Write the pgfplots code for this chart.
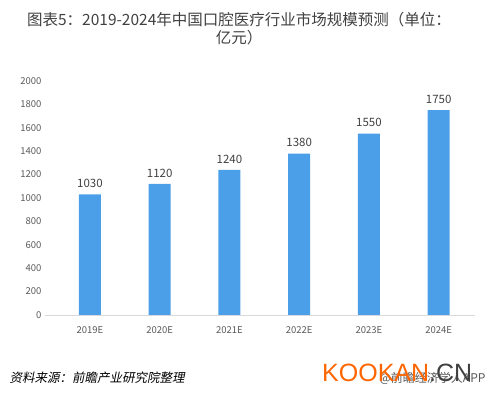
\documentclass[border=0pt]{standalone}
\usepackage{pgfplots}
\pgfplotsset{compat=1.18}
\usepackage{fontspec}
\setmainfont{Noto Sans CJK SC}
\newfontfamily\srcfont[FakeSlant=0.2]{Noto Sans CJK SC}
\newfontfamily\latfont{Liberation Sans}
\definecolor{barblue}{HTML}{4A9FE8}
\definecolor{titlegray}{HTML}{404040}
\definecolor{tickgray}{HTML}{595959}
\definecolor{axisgray}{HTML}{D9D9D9}
\definecolor{kooorange}{HTML}{FF6600}
\begin{document}
\begin{tikzpicture}[x=1pt,y=1pt]
\path[use as bounding box] (0,0) rectangle (488,395);
\node[font=\fontsize{15.5}{18}\selectfont, text=titlegray] at (239,375) {图表5：2019-2024年中国口腔医疗行业市场规模预测（单位：};
\node[font=\fontsize{15.5}{18}\selectfont, text=titlegray] at (239,357) {亿元）};
\begin{axis}[
  at={(45pt,80pt)}, anchor=south west,
  scale only axis, width=430pt, height=234pt,
  ymin=0, ymax=2000,
  xmin=-0.645, xmax=5.52,
  ybar, bar width=22pt,
  axis x line*=bottom, axis y line*=left,
  x axis line style={draw=axisgray, line width=0.8pt, -},
  y axis line style={draw=none},
  xtick style={draw=none}, ytick style={draw=none},
  ytick={0,200,...,2000},
  xtick={0,1,2,3,4,5},
  xticklabels={2019E,2020E,2021E,2022E,2023E,2024E},
  /pgf/number format/assume math mode=true,
  /pgf/number format/1000 sep={},
  yticklabel style={font=\fontsize{9.5}{10}\selectfont, text=tickgray},
  xticklabel style={font=\fontsize{9.5}{10}\selectfont, text=tickgray, yshift=-4pt},
  nodes near coords,
  nodes near coords style={font=\fontsize{11.5}{12}\selectfont, text=titlegray, yshift=3pt},
  clip=false,
]
\addplot[fill=barblue, draw=none] coordinates {(0,1030) (1,1120) (2,1240) (3,1380) (4,1550) (5,1750)};
\end{axis}
\node[anchor=west, font=\srcfont\fontsize{12.5}{14}\selectfont, text=black] at (6,17) {资料来源：前瞻产业研究院整理};
\node[anchor=east, font=\fontsize{12}{14}\selectfont, text=tickgray] at (489,17) {@前瞻经济学人APP};
\node[anchor=base west, inner sep=0pt, font=\latfont\fontsize{25}{28}\selectfont] at (322,13) {\textcolor{kooorange}{KOOKAN}\textcolor{titlegray}{.CN}};
\end{tikzpicture}
\end{document}
